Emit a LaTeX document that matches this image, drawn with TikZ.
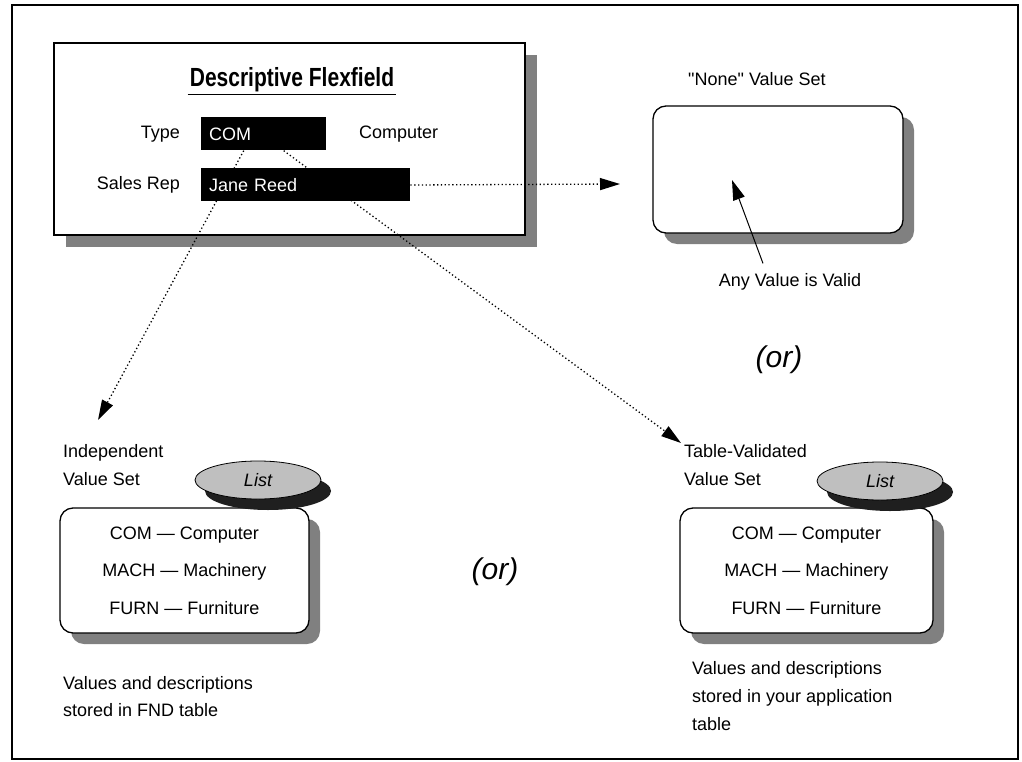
\documentclass[tikz,border=0pt]{standalone}
\usepackage{fontspec}
\setmainfont{Liberation Sans}[Ligatures=TeXOff]
\usetikzlibrary{arrows.meta,shadows,shapes.geometric}
\pgfdeclarelayer{back}
\pgfdeclarelayer{front}
\pgfsetlayers{back,main,front}
\tikzset{
  txt/.style={inner sep=0pt, font=\fontsize{18}{28}\selectfont},
  blackfield/.style={fill=black, text=white, inner xsep=8pt, inner ysep=0pt, minimum height=33pt,
    align=left, anchor=west, font=\fontsize{18}{22}\selectfont},
  valbox/.style={draw, line width=1.3pt, rounded corners=13pt, fill=white, align=center,
    font=\fontsize{18}{37.5}\selectfont,
    drop shadow={shadow xshift=11pt, shadow yshift=-11pt, fill=black!50, opacity=1}},
  listtag/.style={ellipse, draw, line width=0.8pt, fill=black!25, minimum width=126pt,
    minimum height=38pt, inner sep=0pt, font=\fontsize{18}{22}\selectfont\itshape,
    drop shadow={shadow xshift=10pt, shadow yshift=-11pt, fill=black!88, opacity=1}},
  dotarrow/.style={line width=1.3pt, dash pattern=on 1.3pt off 2.5pt,
    -{Triangle[length=20pt,width=12pt]}},
  orlabel/.style={inner sep=0pt, font=\fontsize{30}{34}\selectfont\itshape},
}
\begin{document}
\begin{tikzpicture}[x=1pt,y=-1pt]
  \useasboundingbox (0,0) rectangle (1022,762);
  \draw[line width=1.3pt] (12,5) rectangle (1018,759);

  % the flexfield window
  \begin{pgfonlayer}{back}
    \node[draw, line width=1.3pt, fill=white, minimum width=471pt, minimum height=192pt,
      drop shadow={shadow xshift=12pt, shadow yshift=-12pt, fill=black!50, opacity=1}]
      (flexbox) at (289.5,139) {};
  \end{pgfonlayer}
  \node[inner xsep=2pt, inner ysep=2pt] (title) at (292,80)
    {\scalebox{1}[1.25]{\fontsize{21}{24}\selectfont\bfseries Descriptive Flexfield}};
  \draw[line width=1.2pt] (title.south west) -- (title.south east);
  \begin{pgfonlayer}{front}
    \node[blackfield, text width=109pt] (com) at (201,134) {COM};
    \node[blackfield, text width=193pt] (jane) at (201,185) {Jane Reed};
  \end{pgfonlayer}
  \node[txt, anchor=east] (typelbl) at (180,134) {Type};
  \node[txt, anchor=west] (comdesc) at (359,134) {Computer};
  \node[txt, anchor=east] (replbl) at (180,185) {Sales Rep};

  % "None" value set
  \node[txt] (nonelbl) at (757,79) {"None" Value Set};
  \node[valbox, minimum width=250pt, minimum height=127pt] (nonebox) at (778,169.5) {};
  \node[txt] (anyval) at (790,282) {Any Value is Valid};
  \coordinate (anytip) at (732,180);
  \draw[line width=1pt, -{Triangle[length=20pt,width=12pt]}]
    ([xshift=-27pt,yshift=10pt]anyval.north) -- (anytip);

  \node[orlabel] (orup) at (779,360) {(or)};
  \node[orlabel] (ordown) at (495,572) {(or)};

  % independent value set
  \node[txt, anchor=west, align=left] (indlbl) at (63,465) {Independent\\Value Set};
  \node[valbox, minimum width=249pt, minimum height=125pt] (indbox) at (184.5,570.5)
    {COM — Computer\\MACH — Machinery\\FURN — Furniture};
  \node[listtag] (indtag) at (258,480) {List};
  \node[txt, anchor=west, align=left, font=\fontsize{18}{27}\selectfont] (indnote) at (63,696.5)
    {Values and descriptions\\stored in FND table};

  % table-validated value set
  \node[txt, anchor=west, align=left] (tvlbl) at (684,465) {Table-Validated\\Value Set};
  \node[valbox, minimum width=253pt, minimum height=125pt] (tvbox) at (806.5,570.5)
    {COM — Computer\\MACH — Machinery\\FURN — Furniture};
  \node[listtag] (tvtag) at (880,481) {List};
  \node[txt, anchor=west, align=left] (tvnote) at (692,696)
    {Values and descriptions\\stored in your application\\table};

  % dotted links
  \coordinate (nonetip) at (620,184);
  \coordinate (indtip) at (98,420);
  \coordinate (tvtip) at (681,443);
  \draw[dotarrow] (jane.east) -- (nonetip);
  \draw[dotarrow] ([xshift=-20pt]com.south) -- (indtip);
  \draw[dotarrow] ([xshift=20pt]com.south) -- (tvtip);
\end{tikzpicture}
\end{document}
